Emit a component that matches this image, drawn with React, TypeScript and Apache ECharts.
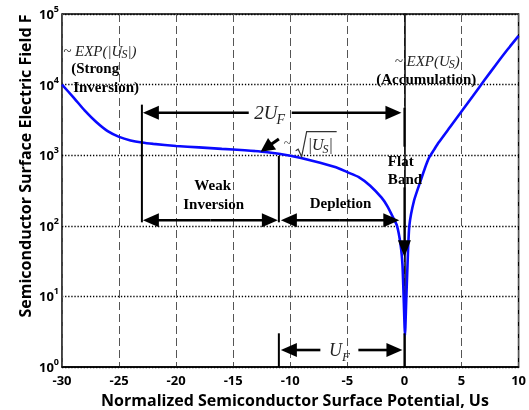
import { useEffect, useRef } from "react";
import * as echarts from "echarts";

// Normalized semiconductor surface potential Us (curve samples)
const surfacePotential = [
  -30, -29, -28, -27, -26, -25, -24, -23, -22, -20, -18, -16, -14, -12, -10, -8, -6,
  -5, -4, -3, -2, -1.5, -1, -0.65, -0.35, -0.17, -0.05, 0.05, 0.15, 0.27, 0.43,
  0.85, 1.45, 1.8, 2.17, 2.6, 3, 4, 5, 6, 7, 8, 9, 10,
];
// Semiconductor surface electric field F at each sample
const surfaceField = [
  10000, 6600, 4270, 2950, 2190, 1820, 1620, 1510, 1445, 1350, 1290, 1230, 1175, 1100, 980, 830, 675,
  575, 490, 370, 250, 190, 132, 100, 56, 28, 8, 2.8, 8, 28, 100,
  230, 450, 660, 930, 1200, 1510, 2510, 4170, 6900, 11500, 19000, 30900, 49000,
];
// Axis ranges and tick steps
const potentialRange = [-30, 10];
const potentialStep = 5;
const fieldDecades = [0, 1, 2, 3, 4, 5];

const SERIF = "Liberation Serif";
const SANS = "Open Sans";
const INK = "#000";
const ITALIC_INK = "#222";

type Pt = number[];
type Run = { t: string; size: number; italic?: boolean; bold?: boolean; dy?: number; kern?: number };

let measureCtx: CanvasRenderingContext2D | null = null;
function textWidth(text: string, size: number, italic: boolean, bold: boolean) {
  if (!measureCtx) measureCtx = document.createElement("canvas").getContext("2d");
  measureCtx!.font = `${italic ? "italic " : ""}${bold ? "bold " : ""}${size}px '${SERIF}'`;
  return measureCtx!.measureText(text).width;
}

function label(
  text: string,
  x: number,
  y: number,
  o: { size?: number; italic?: boolean; bold?: boolean; align?: string; fill?: string; family?: string } = {}
) {
  return {
    type: "text",
    x,
    y,
    z: 100,
    silent: true,
    style: {
      text,
      fill: o.fill ?? (o.italic ? ITALIC_INK : INK),
      fontSize: o.size ?? 15,
      fontFamily: o.family ?? SERIF,
      fontStyle: o.italic ? "italic" : "normal",
      fontWeight: o.bold ? "bold" : "normal",
      align: o.align ?? "left",
      verticalAlign: "middle",
    },
  };
}

// Lays out pieces of text left to right (used for subscripts)
function runs(x0: number, y: number, parts: Run[]) {
  let x = x0;
  const out: any[] = [];
  for (const p of parts) {
    x += p.kern ?? 0;
    out.push(label(p.t, x, y + (p.dy ?? 0), { size: p.size, italic: p.italic, bold: p.bold }));
    x += textWidth(p.t, p.size, !!p.italic, !!p.bold);
  }
  return out;
}
function runsWidth(parts: Run[]) {
  return parts.reduce((s, p) => s + (p.kern ?? 0) + textWidth(p.t, p.size, !!p.italic, !!p.bold), 0);
}

function seg(a: Pt, b: Pt, w = 2) {
  return {
    type: "line",
    z: 100,
    silent: true,
    shape: { x1: a[0], y1: a[1], x2: b[0], y2: b[1] },
    style: { stroke: INK, lineWidth: w },
  };
}

function arrow(from: Pt, tip: Pt, w = 2.5, len = 16, half = 7) {
  const dx = tip[0] - from[0];
  const dy = tip[1] - from[1];
  const L = Math.hypot(dx, dy) || 1;
  const ux = dx / L;
  const uy = dy / L;
  const base = [tip[0] - ux * len, tip[1] - uy * len];
  return [
    seg(from, [base[0] + ux, base[1] + uy], w),
    {
      type: "polygon",
      z: 100,
      silent: true,
      shape: {
        points: [tip, [base[0] - uy * half, base[1] + ux * half], [base[0] + uy * half, base[1] - ux * half]],
      },
      style: { fill: INK },
    },
  ];
}

export default function App() {
  const ref = useRef<HTMLDivElement>(null);

  useEffect(() => {
    const chart = echarts.init(ref.current!, null, { renderer: "svg" });
    const data = surfacePotential.map((u, i) => [u, surfaceField[i]]);

    chart.setOption({
      animation: false,
      grid: {
        left: 62,
        right: 7,
        top: 14,
        bottom: 43,
        show: true,
        borderColor: INK,
        borderWidth: 1.5,
      },
      xAxis: {
        type: "value",
        min: potentialRange[0],
        max: potentialRange[1],
        interval: potentialStep,
        axisLine: { show: true, lineStyle: { color: INK, width: 1.5 } },
        axisTick: { show: false },
        axisLabel: { color: INK, fontFamily: SANS, fontWeight: "bold", fontSize: 13, margin: 6 },
        splitLine: { show: true, lineStyle: { color: "#555", type: [8, 4], width: 1 } },
      },
      yAxis: {
        type: "log",
        logBase: 10,
        min: Math.pow(10, fieldDecades[0]),
        max: Math.pow(10, fieldDecades[fieldDecades.length - 1]),
        axisLine: { show: true, lineStyle: { color: INK, width: 1.5 } },
        axisTick: { show: false },
        axisLabel: {
          margin: 3,
          formatter: (v: number) => `{b|10}{s|${Math.round(Math.log10(v))}}`,
          rich: {
            b: { fontFamily: SANS, fontWeight: "bold", fontSize: 13, color: INK, lineHeight: 20 },
            s: { fontFamily: SANS, fontWeight: "bold", fontSize: 9, color: INK, lineHeight: 9, verticalAlign: "top" },
          },
        },
        splitLine: { show: true, lineStyle: { color: INK, type: [1.3, 1.8], width: 1.3 } },
      },
      series: [
        {
          type: "line",
          data,
          showSymbol: false,
          smooth: 0.2,
          z: 5,
          lineStyle: { color: "#0a0aff", width: 2.6 },
        },
      ],
    });

    const P = (u: number, f: number) => chart.convertToPixel({ gridIndex: 0 }, [u, f]) as number[];
    const els: any[] = [];

    // Axis titles
    els.push(label("Normalized Semiconductor Surface Potential, Us", 295, 400, { size: 16, bold: true, family: SANS, align: "center" }));
    els.push({
      ...label("Semiconductor Surface Electric Field F", 25, 166, { size: 16, bold: true, family: SANS, align: "center" }),
      rotation: Math.PI / 2,
    });

    const xL = P(-23, 1)[0];
    const xM = P(-11, 1)[0];
    const xR = P(0, 1)[0];

    // 2U_F dimension
    const y2 = P(0, 4000)[1];
    const c2 = P(-11.8, 4000)[0];
    els.push(...arrow([c2 - 21, y2], [xL + 1, y2], 2.6));
    els.push(...arrow([c2 + 22, y2], [xR - 3, y2], 2.6));
    const twoUF: Run[] = [
      { t: "2U", size: 19, italic: true },
      { t: "F", size: 14, italic: true, dy: 7, kern: -1 },
    ];
    els.push(...runs(c2 - runsWidth(twoUF) / 2, y2, twoUF));

    // Vertical guide bars
    els.push(seg(P(-23, 5200), P(-23, 112), 2));
    els.push(seg(P(-11, 980), P(-11, 112), 2));
    els.push(seg(P(0, 4700), P(0, 1320), 2));
    els.push(...arrow(P(0, 350), P(0, 36), 2, 17, 6.5));

    // Weak inversion / depletion spans
    const yA = P(0, 120)[1];
    const mW = (xL + xM) / 2;
    els.push(...arrow([mW, yA], [xL + 1, yA], 2.6));
    els.push(...arrow([mW, yA], [xM - 1, yA], 2.6));
    const xDep = P(-0.45, 1)[0];
    const mD = (xM + xDep) / 2;
    els.push(...arrow([mD, yA], [xM + 2, yA], 2.6));
    els.push(...arrow([mD, yA], [xDep, yA], 2.6));

    // U_F dimension at the bottom
    const yU = P(0, 1.74)[1];
    els.push(seg(P(-11, 3.0), P(-11, 1), 2));
    els.push(seg(P(0, 3.0), P(0, 1), 2));
    const cU = P(-5.7, 1)[0];
    els.push(...arrow([cU - 19, yU], [xM + 2, yU], 2.6));
    els.push(...arrow([cU + 19, yU], [xR - 2, yU], 2.6));
    const uF: Run[] = [
      { t: "U", size: 18, italic: true },
      { t: "F", size: 13, italic: true, dy: 6, kern: 0 },
    ];
    els.push(...runs(cU - runsWidth(uF) / 2, yU, uF));

    // Arrow towards the square-root region of the curve
    els.push(...arrow(P(-11.0, 1700), P(-12.6, 1120), 3, 14, 7));
    const S = P(-10.58, 1410);
    els.push(label("~", S[0], S[1] - 2, { size: 13, italic: true }));
    els.push({
      type: "polyline",
      z: 100,
      silent: true,
      shape: {
        points: [
          [S[0] + 12, S[1] + 6],
          [S[0] + 14.5, S[1] + 4.5],
          [S[0] + 18, S[1] + 12],
          [S[0] + 23, S[1] - 13],
          [S[0] + 53, S[1] - 13],
        ],
      },
      style: { stroke: "#333", lineWidth: 1.2, fill: null },
    });
    els.push(
      ...runs(S[0] + 24, S[1], [
        { t: "|U", size: 16, italic: true },
        { t: "S", size: 12, italic: true, dy: 4, kern: -1 },
        { t: "|", size: 16, italic: true },
      ])
    );

    // Strong inversion note
    const A = P(-29.9, 29500);
    els.push(
      ...runs(A[0], A[1], [
        { t: "~ EXP(|U", size: 15, italic: true },
        { t: "S", size: 12, italic: true, dy: 3, kern: -1 },
        { t: "|)", size: 15, italic: true },
      ])
    );
    els.push(label("(Strong", A[0] + 8, A[1] + 17, { bold: true }));
    els.push(label("Inversion)", A[0] + 10, A[1] + 36, { bold: true }));

    // Accumulation note
    const B = P(2, 21400);
    const accum: Run[] = [
      { t: "~ EXP(U", size: 15, italic: true },
      { t: "S", size: 12, italic: true, dy: 3, kern: -1 },
      { t: ")", size: 15, italic: true },
    ];
    els.push(...runs(B[0] - runsWidth(accum) / 2, B[1], accum));
    els.push(label("(Accumulation)", B[0] - 1, B[1] + 18, { bold: true, align: "center" }));

    // Flat band note
    const FB = P(-1.45, 830);
    els.push(label("Flat", FB[0], FB[1], { bold: true }));
    els.push(label("Band", FB[0], FB[1] + 18, { bold: true }));

    // Region names
    const W = P(-16.8, 10 ** 2.58);
    els.push(label("Weak", W[0], W[1], { bold: true, align: "center" }));
    els.push(label("Inversion", W[0] + 1, W[1] + 19, { bold: true, align: "center" }));
    const D = P(-5.6, 10 ** 2.32);
    els.push(label("Depletion", D[0], D[1], { bold: true, align: "center" }));

    chart.setOption({ graphic: { elements: els } });

    return () => chart.dispose();
  }, []);

  return <div ref={ref} style={{ position: "fixed", left: 0, top: 0, width: 529, height: 410 }} />;
}
